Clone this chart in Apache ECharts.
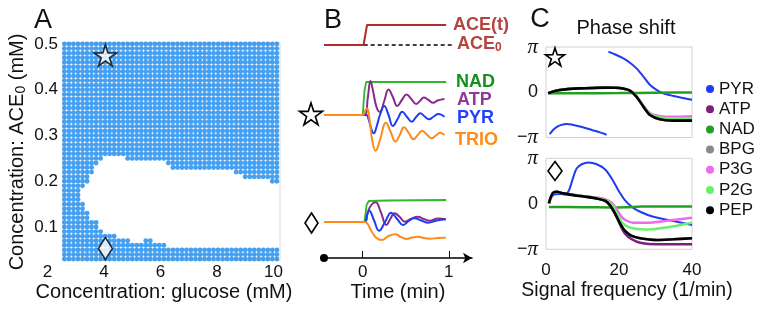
<!DOCTYPE html>
<html><head><meta charset="utf-8">
<script src="https://cdn.jsdelivr.net/npm/echarts@6/dist/echarts.min.js"></script>
<style>html,body{margin:0;padding:0;background:#fff}#c{width:763px;height:311px}</style>
</head><body><div id="c"></div>
<script>
// ---------------- Panel A: parameter sweep (glucose x ACE0) ----------------
const glucoseLevels = [2.60,2.76,2.92,3.08,3.24,3.40,3.56,3.72,3.88,4.04,4.20,4.36,4.52,4.68,4.84,5.00,5.16,5.32,5.48,5.64,5.80,5.96,6.12,6.28,6.44,6.60,6.76,6.92,7.08,7.24,7.40,7.56,7.72,7.88,8.04,8.20,8.36,8.52,8.68,8.84,9.00,9.16,9.32,9.48,9.64,9.80,9.96,10.12];
const aceLevels = [0.03,0.04,0.05,0.06,0.07,0.08,0.09,0.10,0.11,0.12,0.13,0.14,0.15,0.16,0.17,0.18,0.19,0.20,0.21,0.22,0.23,0.24,0.25,0.26,0.27,0.28,0.29,0.30,0.31,0.32,0.33,0.34,0.35,0.36,0.37,0.38,0.39,0.40,0.41,0.42,0.43,0.44,0.45,0.46,0.47,0.48,0.49,0.50];
// empty (non-oscillating) region: per ACE0 row, glucose span without a dot
const holeAce  = [0.06, 0.07, 0.07, 0.08, 0.09, 0.10, 0.11, 0.12, 0.13, 0.14, 0.15, 0.16, 0.17, 0.18, 0.19, 0.20, 0.21, 0.22, 0.23, 0.24, 0.25];
const holeFrom = [6.20, 4.92, 5.72, 4.44, 3.96, 3.80, 3.80, 3.48, 3.48, 3.32, 3.32, 3.16, 3.16, 3.16, 3.32, 3.48, 3.48, 3.64, 3.64, 3.80, 3.96];
const holeTo   = [10.3, 5.40, 10.3, 10.3, 10.3, 10.3, 10.3, 10.3, 10.3, 10.3, 10.3, 10.3, 10.3, 10.3, 10.3, 9.88, 8.92, 8.60, 6.36, 6.20, 4.76];
const starPoint = [4.05, 0.475];
const diamondPoint = [4.05, 0.053];
const xTicksA = [2, 10.25];   // axis range of glucose
const yTicksA = [0, 0.5];

// ---------------- Panel B: time courses ----------------
const aceStep = [[-0.45,0],[0.01,0],[0.05,1],[0.97,1]];
const aceBase = [[-0.07,0],[1.06,0]];
const starNAD  = [[-0.45,0],[0,0],[0.02,24],[0.04,33],[0.97,33]];
const starATP  = [[-0.45,0],[0.02,0],[0.06,18],[0.09,34],[0.12,24],[0.16,8],[0.2,3],[0.25,14],[0.3,25.5],[0.35,18],[0.4,9],[0.455,15],[0.51,20.5],[0.565,16],[0.62,11],[0.665,14],[0.71,17.5],[0.765,15],[0.82,12.3],[0.87,14.5],[0.95,16]];
const starPYR  = [[-0.45,0],[0.04,0],[0.07,-5],[0.1,-14],[0.128,-18.3],[0.16,-12],[0.2,0],[0.25,9],[0.3,0],[0.35,-11],[0.405,-4],[0.46,3.3],[0.515,-2],[0.57,-6.7],[0.62,-2],[0.67,1.7],[0.72,-1.5],[0.77,-4.3],[0.825,-1.5],[0.88,1],[0.95,-1.7]];
const starTRIO = [[-0.45,0],[0,0],[0.025,4],[0.05,6.7],[0.08,-5],[0.11,-25],[0.15,-35.7],[0.2,-25],[0.27,-7.7],[0.325,-17],[0.38,-26.7],[0.43,-20],[0.48,-12.3],[0.535,-18],[0.59,-24.3],[0.64,-20],[0.69,-15.7],[0.745,-19.5],[0.8,-23.3],[0.85,-20.5],[0.9,-17.7],[0.95,-20]];
const diaNAD  = [[-0.45,0],[0.02,0],[0.045,17],[0.07,21],[0.3,21.5],[0.97,22]];
const diaATP  = [[-0.45,0],[0.02,0],[0.06,10],[0.1,17],[0.15,19.7],[0.21,10],[0.275,-3],[0.32,3],[0.37,8.7],[0.43,5],[0.49,0.3],[0.56,3],[0.64,5.3],[0.71,3],[0.78,1.3],[0.87,3.5],[0.965,2.7]];
const diaPYR  = [[-0.45,0],[0.02,0],[0.05,7],[0.075,11.3],[0.13,2],[0.19,-8.7],[0.26,0],[0.33,9.3],[0.4,3],[0.47,-3],[0.535,1],[0.6,3.7],[0.68,1.5],[0.76,-0.7],[0.86,1.5],[0.965,2.7]];
const diaTRIO = [[-0.45,0],[0.02,0],[0.1,-9],[0.16,-16],[0.22,-18],[0.3,-14],[0.38,-12.3],[0.445,-15],[0.51,-17],[0.575,-15.5],[0.64,-14.7],[0.71,-16],[0.78,-16.7],[0.87,-16],[0.965,-15.7]];
const timeTicks = [0, 1];

// ---------------- Panel C: phase shift vs signal frequency ----------------
const starPYR1 = [[1,-2.9],[2,-2.6],[3,-2.4],[4,-2.28],[5.7,-2.2],[7,-2.24],[9,-2.36],[11,-2.5],[13,-2.65],[15,-2.8],[16.6,-2.95]];
const starPYR2 = [[17.1,2.82],[19,2.62],[21.2,2.35],[23,2.05],[24.8,1.66],[26.7,1.08],[28.5,0.5],[30.3,0.16],[32.1,-0.07],[34.9,-0.26],[37.5,-0.4],[40,-0.52]];
const starPhNAD = [[1,-0.07],[10,-0.07],[20,-0.06],[30,-0.03],[40,-0.01]];
const starPhATP = [[0.6,-0.07],[2,0.05],[3.8,0.16],[6,0.22],[9.3,0.27],[13,0.3],[16.6,0.32],[19,0.31],[21.2,0.25],[23,0.12],[24.8,-0.3],[26.7,-0.98],[28.5,-1.55],[31.2,-1.84],[34.9,-1.92],[40,-1.93]];
const starPhBPG = [[0.6,-0.07],[2,0.05],[3.8,0.16],[6,0.22],[9.3,0.27],[13,0.3],[16.6,0.32],[19,0.31],[21.2,0.25],[23,0.12],[24.8,-0.31],[26.7,-1.0],[28.5,-1.58],[31.2,-1.88],[34.9,-1.97],[40,-1.97]];
const starPhP3G = [[0.6,-0.07],[2,0.05],[3.8,0.16],[6,0.22],[9.3,0.27],[13,0.3],[16.6,0.32],[19,0.31],[21.2,0.25],[23,0.12],[24.8,-0.28],[26.7,-0.93],[28.5,-1.45],[31.2,-1.66],[34.9,-1.7],[40,-1.66]];
const starPhP2G = [[0.6,-0.07],[2,0.05],[3.8,0.16],[6,0.22],[9.3,0.27],[13,0.3],[16.6,0.32],[19,0.31],[21.2,0.25],[23,0.12],[24.8,-0.29],[26.7,-0.96],[28.5,-1.5],[31.2,-1.75],[34.9,-1.8],[40,-1.8]];
const starPhPEP = [[0.6,-0.07],[2,0.05],[3.8,0.16],[6,0.22],[9.3,0.27],[13,0.3],[16.6,0.32],[19,0.31],[21.2,0.25],[23,0.12],[24.8,-0.31],[26.7,-1.0],[28.5,-1.58],[31.2,-1.88],[34.9,-1.97],[40,-1.97]];
const diaPhPYR = [[0.9,0.07],[1.55,0.48],[2.5,0.65],[3.8,0.67],[5.2,0.65],[6.1,0.83],[6.8,1.29],[7.5,1.86],[8.4,2.44],[9.8,2.73],[11.6,2.85],[13.9,2.73],[16.2,2.37],[18,1.75],[19.8,0.94],[21.6,0.25],[23.5,-0.21],[25.8,-0.55],[29.4,-0.9],[34.9,-1.19],[40,-1.47]];
const diaPhNAD = [[0.8,-0.22],[10,-0.23],[18,-0.25],[22,-0.24],[26,-0.19],[40,-0.19]];
const diaPhATP = [[0.8,0.03],[1.8,0.72],[2.9,0.83],[4.7,0.72],[7.5,0.6],[11.1,0.48],[13.9,0.37],[16.2,0.21],[17.5,-0.09],[18.9,-0.68],[20.3,-1.45],[21.6,-2.04],[23.5,-2.45],[25.8,-2.69],[30.3,-2.8],[40,-2.8]];
const diaPhBPG = [[0.8,0.03],[1.8,0.72],[2.9,0.83],[4.7,0.72],[7.5,0.6],[11.1,0.48],[13.9,0.37],[16.2,0.21],[17.5,-0.09],[18.9,-0.66],[20.3,-1.35],[21.6,-1.86],[23.5,-2.22],[25.8,-2.38],[30.3,-2.5],[34.9,-2.45],[40,-2.38]];
const diaPhP3G = [[0.8,0.03],[1.8,0.72],[2.9,0.83],[4.7,0.72],[7.5,0.62],[11.1,0.52],[13.9,0.43],[16.2,0.32],[18,0.07],[19.4,-0.39],[20.7,-0.9],[22.1,-1.17],[23.9,-1.31],[27.6,-1.31],[33.1,-1.17],[40,-0.96]];
const diaPhP2G = [[0.8,0.03],[1.8,0.72],[2.9,0.83],[4.7,0.72],[7.5,0.61],[11.1,0.5],[13.9,0.4],[16.2,0.26],[18,-0.02],[19.4,-0.66],[20.7,-1.24],[22.1,-1.54],[24.4,-1.72],[28,-1.77],[33.1,-1.63],[40,-1.31]];
const diaPhPEP = [[0.8,0.03],[1.8,0.72],[2.9,0.83],[4.7,0.72],[7.5,0.6],[11.1,0.48],[13.9,0.37],[16.2,0.21],[17.5,-0.09],[18.9,-0.66],[20.3,-1.35],[21.6,-1.86],[23.5,-2.22],[25.8,-2.38],[30.3,-2.5],[34.9,-2.45],[40,-2.38]];
const metabolites = ['PYR','ATP','NAD','BPG','P3G','P2G','PEP'];
const freqRange = [0, 40];

// ---------------- build ----------------
const FONT = '"Liberation Sans", Arial, Helvetica, sans-serif';
const INK = '#111';
const DOT = '#1888ee';
const COL = {PYR:'#1f3cf0', ATP:'#7d1f7d', NAD:'#23a023', BPG:'#8a8a8a', P3G:'#f06af0', P2G:'#6cf06c', PEP:'#000000'};
const B = {NAD:'#2db82d', ATP:'#8a2b8a', PYR:'#1f3cf5', TRIO:'#ff8a1c', ACE:'#b22a2a'};
const BT = {NAD:'#16901a', ATP:'#93399a', PYR:'#2340ff', TRIO:'#ff8c1a', ACE:'#b5443f'};

const dots = [];
aceLevels.forEach(a => glucoseLevels.forEach(g => {
  let hole = false;
  for (let k = 0; k < holeAce.length; k++) {
    if (Math.abs(a - holeAce[k]) < 0.001 && g >= holeFrom[k] && g <= holeTo[k]) { hole = true; break; }
  }
  if (!hole) dots.push([g, a]);
}));

const STAR = 'path://M50,0L61.17,34.63L97.55,34.55L68.07,55.87L79.39,90.45L50,69L20.61,90.45L31.93,55.87L2.45,34.55L38.83,34.63Z';

const hid = {show:false};
function hiddenAxis(idx, min, max) {
  return {gridIndex: idx, type:'value', min, max, show:false, splitLine:hid};
}
const piLabel = {
  show:true, margin:8, fontSize:18, color:INK, fontFamily:FONT,
  formatter: v => Math.abs(v) < 1e-6 ? '0' : (v > 0 ? '{p|π}' : '−{p|π}'),
  rich: {p:{fontFamily:'"Liberation Serif", "DejaVu Serif", serif', fontStyle:'italic', fontSize:21, color:INK}}
};

function line(name, data, grid, color, width, smooth, extra) {
  return Object.assign({
    type:'line', name, data, xAxisIndex:grid, yAxisIndex:grid,
    showSymbol:false, symbol:'none', smooth, clip:true,
    lineStyle:{color, width}, itemStyle:{color}, z:3
  }, extra || {});
}

const series = [
  {type:'scatter', name:'sweep', data:dots, xAxisIndex:0, yAxisIndex:0, symbolSize:4.9,
   itemStyle:{color:DOT}, silent:true, z:2},
  {type:'scatter', name:'star', data:[starPoint], xAxisIndex:0, yAxisIndex:0, symbol:STAR, symbolSize:[22,21],
   itemStyle:{color:'#fff', borderColor:'#000', borderWidth:1.6}, z:5},
  {type:'scatter', name:'diamond', data:[diamondPoint], xAxisIndex:0, yAxisIndex:0, symbol:'diamond', symbolSize:[14,22],
   itemStyle:{color:'#fff', borderColor:'#000', borderWidth:1.6}, z:5},
  // panel B
  line('ACE(t)', aceStep, 2, B.ACE, 2, false),
  line('ACE0', aceBase, 2, '#000', 1.5, false, {lineStyle:{color:'#000', width:1.5, type:[4,3]}, z:2}),
  line('sNAD', starNAD, 3, B.NAD, 1.8, false),
  line('sATP', starATP, 3, B.ATP, 2, 0.45),
  line('sPYR', starPYR, 3, B.PYR, 2, 0.45),
  line('sTRIO', starTRIO, 3, B.TRIO, 2, 0.45, {z:4}),
  line('dNAD', diaNAD, 4, B.NAD, 1.8, false),
  line('dATP', diaATP, 4, B.ATP, 2, 0.45),
  line('dPYR', diaPYR, 4, B.PYR, 2, 0.45),
  line('dTRIO', diaTRIO, 4, B.TRIO, 2, 0.45, {z:4}),
  // panel C upper
  line('PYR', starPYR1, 5, COL.PYR, 2, 0.3),
  line('PYR', starPYR2, 5, COL.PYR, 2, 0.3),
  line('ATP', starPhATP, 5, COL.ATP, 2.5, 0.3),
  line('NAD', starPhNAD, 5, COL.NAD, 2.5, 0.3),
  line('BPG', starPhBPG, 5, COL.BPG, 2.5, 0.3),
  line('P3G', starPhP3G, 5, COL.P3G, 2.5, 0.3),
  line('P2G', starPhP2G, 5, COL.P2G, 2.5, 0.3),
  line('PEP', starPhPEP, 5, COL.PEP, 2.6, 0.3),
  // panel C lower
  line('PYR', diaPhPYR, 6, COL.PYR, 2, 0.3),
  line('ATP', diaPhATP, 6, COL.ATP, 2.5, 0.3),
  line('NAD', diaPhNAD, 6, COL.NAD, 2.5, 0.3),
  line('BPG', diaPhBPG, 6, COL.BPG, 2.5, 0.3),
  line('P3G', diaPhP3G, 6, COL.P3G, 2.5, 0.3),
  line('P2G', diaPhP2G, 6, COL.P2G, 2.5, 0.3),
  line('PEP', diaPhPEP, 6, COL.PEP, 2.6, 0.3)
];

function txt(text, x, y, size, opts) {
  return Object.assign({type:'text', x, y, silent:true, z:10,
    style: Object.assign({text, fontSize:size, fontFamily:FONT, fill:INK,
      align:'center', verticalAlign:'middle', textAlign:'center', textVerticalAlign:'middle'}, (opts||{}).style || {})
  }, (opts||{}).el || {});
}
function starIcon(cx, cy, w, h) {
  const pts = [];
  for (let i = 0; i < 10; i++) {
    const ang = -Math.PI/2 + i * Math.PI/5;
    const r = (i % 2 === 0) ? 1 : 0.382;
    pts.push([cx + r * Math.cos(ang) * w/1.902, cy + 0.05*h + r * Math.sin(ang) * h/1.809]);
  }
  return {type:'polygon', silent:true, z:10, shape:{points:pts},
    style:{fill:'#fff', stroke:'#000', lineWidth:1.6}};
}
function diamondIcon(cx, cy, w, h) {
  return {type:'polygon', silent:true, z:10,
    shape:{points:[[cx, cy - h/2],[cx + w/2, cy],[cx, cy + h/2],[cx - w/2, cy]]},
    style:{fill:'#fff', stroke:'#000', lineWidth:1.6}};
}
const boldL = (t, x, y, color) => txt(t, x, y, 18, {style:{fontWeight:'bold', fill:color, align:'left', textAlign:'left'}});

const graphic = [
  txt('A', 43, 21, 27),
  txt('B', 333, 21, 27),
  txt('C', 540, 20, 27),
  txt('Concentration: glucose (mM)', 164, 292, 20),
  {type:'text', x:17, y:152, rotation:Math.PI/2, silent:true, z:10,
   style:{text:'{a|Concentration: ACE}{s|0}{a| (mM)}', fontFamily:FONT, fontSize:20, fill:INK,
     align:'center', verticalAlign:'middle', textAlign:'center', textVerticalAlign:'middle',
     rich:{a:{fontSize:20, fontFamily:FONT, fill:INK, lineHeight:22},
           s:{fontSize:14, fontFamily:FONT, fill:INK, verticalAlign:'bottom', lineHeight:14}}}},
  txt('Time (min)', 398, 292, 20),
  txt('Signal frequency (1/min)', 627, 291, 19.5),
  txt('Phase shift', 626, 28, 20),
  boldL('ACE(t)', 453, 25, BT.ACE),
  {type:'text', x:457, y:44, silent:true, z:10,
   style:{text:'{a|ACE}{s|0}', fontFamily:FONT, fontSize:18, fontWeight:'bold', fill:BT.ACE,
     align:'left', verticalAlign:'middle', textAlign:'left', textVerticalAlign:'middle',
     rich:{a:{fontSize:18, fontWeight:'bold', fontFamily:FONT, fill:BT.ACE, lineHeight:20},
           s:{fontSize:12, fontWeight:'bold', fontFamily:FONT, fill:BT.ACE, verticalAlign:'bottom', lineHeight:12}}}},
  boldL('NAD', 456, 82, BT.NAD),
  boldL('ATP', 457, 100, BT.ATP),
  boldL('PYR', 457, 118, BT.PYR),
  boldL('TRIO', 455, 140, BT.TRIO),
  starIcon(311, 114, 23, 22),
  diamondIcon(311.5, 223, 13, 20),
  starIcon(555, 57, 19, 18),
  diamondIcon(555, 171, 14, 19)
];

const option = {
  animation:false,
  backgroundColor:'#fff',
  textStyle:{fontFamily:FONT, color:INK},
  grid:[
    {left:47.5, top:44, width:233, height:228.75},
    {left:63, top:43, width:217, height:217, show:true, borderColor:'#d9d9d9', borderWidth:1},
    {left:324, top:15, width:148, height:40},
    {left:324, top:75, width:148, height:80},
    {left:324, top:182, width:148, height:76},
    {left:546, top:47, width:146, height:90.5, show:true, borderColor:'#d0d0d0', borderWidth:1},
    {left:546, top:158.3, width:146, height:91, show:true, borderColor:'#d0d0d0', borderWidth:1}
  ],
  xAxis:[
    {gridIndex:0, type:'value', min:xTicksA[0], max:xTicksA[1], interval:2, offset:-12.75,
     axisLine:hid, axisTick:hid, splitLine:hid,
     axisLabel:{fontSize:17, color:INK, margin:4, fontFamily:FONT, showMaxLabel:false}},
    hiddenAxis(1, 0, 1),
    hiddenAxis(2, -0.45, 1.27),
    hiddenAxis(3, -0.45, 1.27),
    {gridIndex:4, type:'value', min:-0.45, max:1.27, splitLine:hid, position:'bottom',
     axisLine:{show:true, onZero:false, symbol:['circle','arrow'], symbolSize:[8,9], lineStyle:{color:'#000', width:1.5}},
     axisTick:{show:true, inside:true, length:7, customValues:timeTicks, lineStyle:{color:'#000', width:1}},
     axisLabel:{show:true, customValues:timeTicks, fontSize:17, color:INK, margin:6, fontFamily:FONT}},
    {gridIndex:5, type:'value', min:freqRange[0], max:freqRange[1], interval:20, show:true,
     axisLine:hid, axisTick:hid, splitLine:hid, axisLabel:hid},
    {gridIndex:6, type:'value', min:freqRange[0], max:freqRange[1], interval:20,
     axisLine:{show:false, onZero:false}, axisTick:hid, splitLine:hid,
     axisLabel:{fontSize:17, color:INK, margin:13, fontFamily:FONT}}
  ],
  yAxis:[
    {gridIndex:0, type:'value', min:yTicksA[0], max:yTicksA[1], interval:0.1, offset:-15.5,
     axisLine:hid, axisTick:hid, splitLine:hid,
     axisLabel:{fontSize:17, color:INK, margin:5, fontFamily:FONT, showMinLabel:false}},
    hiddenAxis(1, 0, 1),
    hiddenAxis(2, -0.5, 1.5),
    hiddenAxis(3, -40, 40),
    hiddenAxis(4, -36, 40),
    {gridIndex:5, type:'value', min:-Math.PI, max:Math.PI, interval:Math.PI,
     axisLine:{show:false, onZero:false}, axisTick:hid, splitLine:hid, axisLabel:piLabel},
    {gridIndex:6, type:'value', min:-Math.PI, max:Math.PI, interval:Math.PI,
     axisLine:{show:false, onZero:false}, axisTick:hid, splitLine:hid, axisLabel:piLabel}
  ],
  legend:{
    show:true, orient:'vertical', left:701, top:75, icon:'circle',
    itemWidth:8, itemHeight:8, itemGap:2.2, selectedMode:false,
    textStyle:{fontSize:17, color:INK, fontFamily:FONT, lineHeight:18},
    data:metabolites
  },
  series,
  graphic
};
const chart = echarts.init(document.getElementById('c'));
chart.setOption(option);
</script>
</body></html>
